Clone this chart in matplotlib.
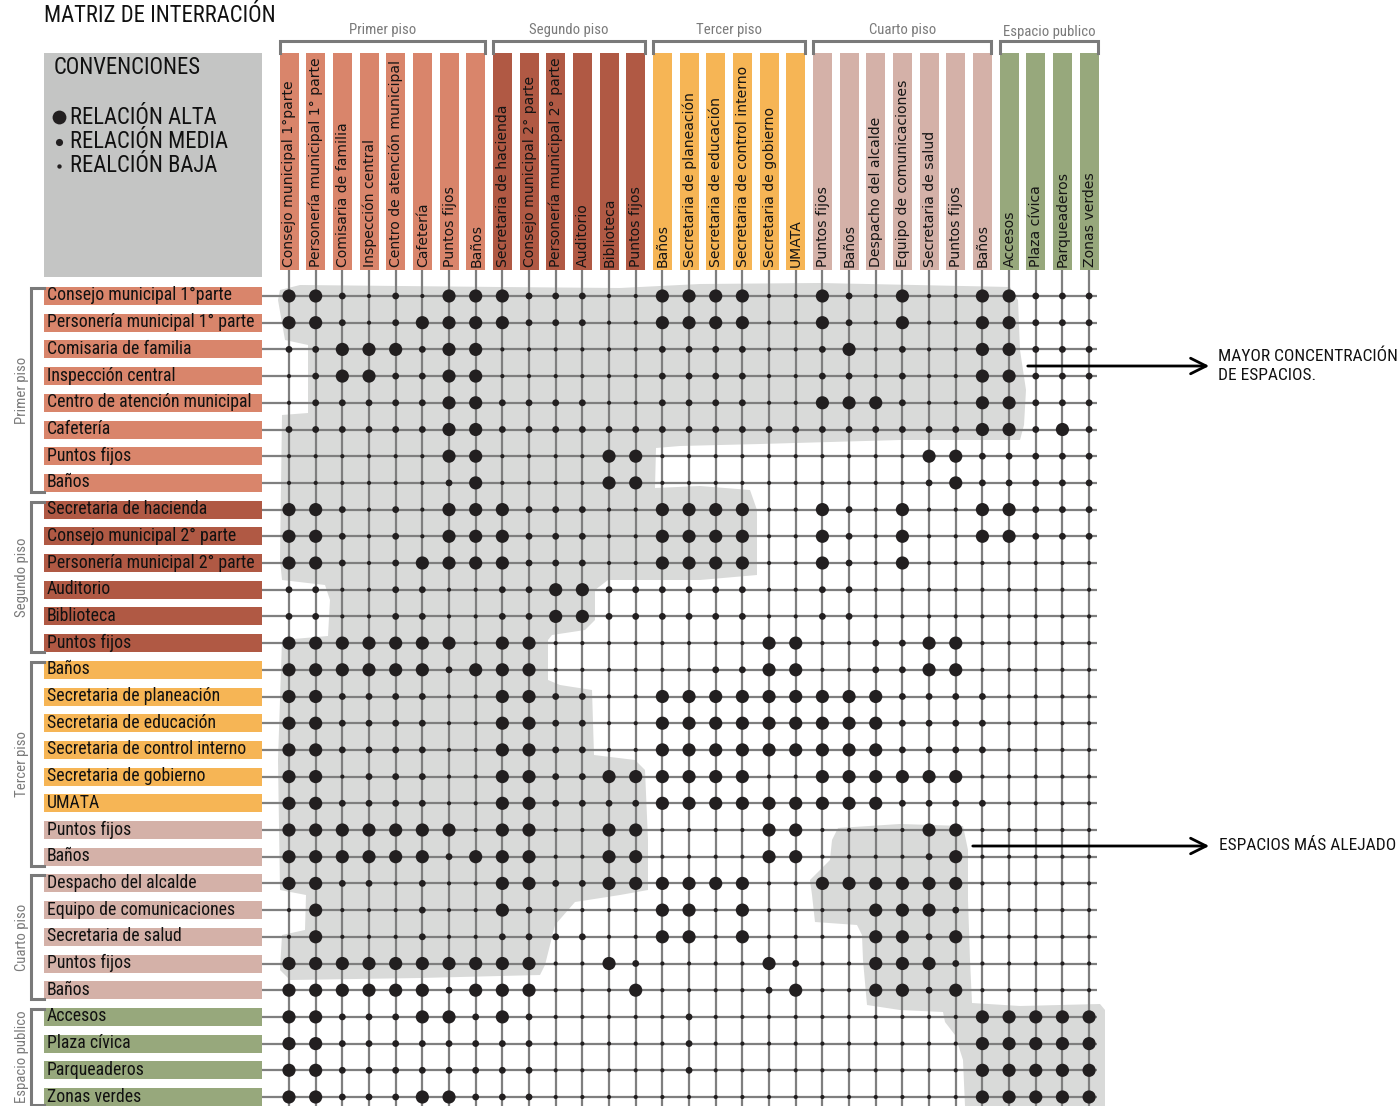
import matplotlib
matplotlib.use('Agg')
import matplotlib.pyplot as plt
from matplotlib.patches import Rectangle, Polygon
from matplotlib import font_manager

# --- data ------------------------------------------------------------------
floors = ['Primer piso', 'Segundo piso', 'Tercer piso', 'Cuarto piso', 'Espacio publico']
floor_colors = ['#d9856b', '#b05944', '#f6b555', '#d4b1a8', '#97a87c']

spaces = [
    'Consejo municipal 1°parte', 'Personería municipal 1° parte', 'Comisaria de familia',
    'Inspección central', 'Centro de atención municipal', 'Cafetería', 'Puntos fijos', 'Baños',
    'Secretaria de hacienda', 'Consejo municipal 2° parte', 'Personería municipal 2° parte',
    'Auditorio', 'Biblioteca', 'Puntos fijos',
    'Baños', 'Secretaria de planeación', 'Secretaria de educación',
    'Secretaria de control interno', 'Secretaria de gobierno', 'UMATA',
    'Puntos fijos', 'Baños', 'Despacho del alcalde', 'Equipo de comunicaciones',
    'Secretaria de salud', 'Puntos fijos', 'Baños',
    'Accesos', 'Plaza cívica', 'Parqueaderos', 'Zonas verdes',
]
# colour group of every space (rows and columns share it)
space_group = [0] * 8 + [1] * 6 + [2] * 6 + [3] * 7 + [4] * 4
# how many columns / rows each bracket groups
col_brackets = [8, 6, 6, 7, 4]
row_brackets = [8, 6, 8, 5, 4]

# relation level per cell: 1 = baja, 2 = media, 3 = alta
relation = [
    '3321213332221133' + '331132131133222',
    '3321233332221133' + '331132131133222',
    '2233323311111122' + '221123121133222',
    '1233223311111122' + '221122121133222',
    '1222223322221122' + '221133321133222',
    '2222223322222222' + '222222222233232',
    '1111113311113311' + '111111113322222',
    '1111112311113311' + '111111112322222',
    '3321213332221133' + '331132131133222',
    '3321213332221133' + '331132131133222',
    '3321233332221133' + '331132131111111',
    '2211221122332222' + '221122111111111',
    '2211221122332222' + '221122111111111',
    '3333333133111111' + '113311223311111',
    '3333332333111111' + '223311223311111',
    '3322221133221133' + '333333322221111',
    '3322221133221133' + '333333322221111',
    '3322221133221133' + '333333322221111',
    '3312221133223333' + '331133333311111',
    '3322221133222233' + '333333322221111',
    '3333333133113311' + '113311113311111',
    '3333332333113311' + '113311112311111',
    '3322121133223333' + '331133333311111',
    '1311121132111133' + '131111333211111',
    '1311121122221133' + '131111332311111',
    '3333333333113211' + '113211333211111',
    '3333332333111311' + '112311332311111',
    '3322233232111112' + '111111111133333',
    '3322222222111112' + '111111111133333',
    '3322222222111112' + '111111111133333',
    '3322233222111111' + '111111111133333',
]
legend_labels = ['RELACIÓN ALTA', 'RELACIÓN MEDIA', 'REALCIÓN BAJA']

# --- fonts -----------------------------------------------------------------
available = {f.name for f in font_manager.fontManager.ttflist}


def pick(*names):
    for n in names:
        if n in available:
            return n
    return 'DejaVu Sans'


COND = pick('Roboto Condensed', 'Liberation Sans Narrow', 'Roboto')
narrow = COND != 'Roboto'
HEAD = 'DejaVu Sans'

# --- layout (pixels) -------------------------------------------------------
X0, DX = 289, 26.67
Y0, DY = 296, 26.7
n = len(spaces)
col_x = [X0 + DX * j for j in range(n)]
row_y = [Y0 + DY * i for i in range(n)]
dot_size = {1: 9, 2: 24, 3: 90}
GRID = '#7f7f7f'
BLOB = '#d9dad9'
DOT = '#221f20'
big = 16.3 if narrow else 14
mid = 12.5 if narrow else 10.8
small = 10.6 if narrow else 9
label = 12.8 if narrow else 10.8

fig = plt.figure(figsize=(13.98, 11.06), dpi=100)
ax = fig.add_axes([0, 0, 1, 1])
ax.set_xlim(0, 1398)
ax.set_ylim(1106, 0)
ax.axis('off')

# shaded concentration areas
blob_a = [(280, 290), (300, 285), (500, 287), (620, 288), (700, 284), (820, 283), (1010, 287),
          (1018, 300), (1020, 350), (1026, 390), (1024, 425), (1020, 440), (900, 440), (760, 444),
          (680, 446), (656, 448), (655, 488), (700, 486), (750, 490), (757, 510), (757, 575),
          (700, 580), (608, 580), (595, 590), (595, 620), (585, 630), (552, 635), (548, 640),
          (548, 680), (560, 685), (592, 690), (594, 755), (635, 760), (645, 770), (648, 840),
          (648, 890), (620, 895), (575, 902), (555, 925), (545, 965), (540, 975), (420, 978),
          (290, 980), (280, 970), (282, 935), (305, 930), (306, 895), (280, 890), (278, 760),
          (282, 640), (328, 636), (330, 600), (325, 585), (282, 580), (280, 560), (282, 415),
          (308, 413), (308, 345), (285, 340), (278, 300)]
blob_b = [(838, 828), (900, 824), (963, 826), (968, 850), (968, 900), (970, 960), (972, 1003),
          (1020, 1006), (1100, 1004), (1105, 1010), (1105, 1106), (965, 1106), (963, 1060),
          (955, 1035), (945, 1022), (943, 1012), (900, 1010), (867, 1005), (863, 960),
          (862, 935), (857, 925), (815, 922), (812, 895), (810, 880), (830, 860), (832, 840)]
for pts in (blob_a, blob_b):
    ax.add_patch(Polygon(pts, closed=True, facecolor=BLOB, edgecolor='none', zorder=1))

# grid lines
for y in row_y:
    ax.plot([262, 1097], [y, y], color=GRID, lw=1.6, zorder=2, solid_capstyle='butt')
for x in col_x:
    ax.plot([x, x], [270, 1106], color=GRID, lw=1.6, zorder=2, solid_capstyle='butt')

# dots
xs, ys, ss = [], [], []
for i, row in enumerate(relation):
    for j, ch in enumerate(row):
        xs.append(col_x[j])
        ys.append(row_y[i])
        ss.append(dot_size[int(ch)])
ax.scatter(xs, ys, s=ss, color=DOT, linewidths=0, zorder=3)

# column header bars
for j, name in enumerate(spaces):
    c = floor_colors[space_group[j]]
    ax.add_patch(Rectangle((col_x[j] - 9.5, 53), 19, 217, facecolor=c, edgecolor='none', zorder=2))
    ax.text(col_x[j] + 0.5, 267, name, rotation=90, ha='center', va='bottom',
            fontsize=10.1, family=HEAD, color='#141414', zorder=4)

# row label bars
for i, name in enumerate(spaces):
    c = floor_colors[space_group[i]]
    ax.add_patch(Rectangle((44, row_y[i] - 9), 218, 18, facecolor=c, edgecolor='none', zorder=2))
    ax.text(47, row_y[i] - 0.5, name, ha='left', va='center',
            fontsize=label, family=COND, color='#111111', zorder=4)

# column brackets
start = 0
for k, cnt in enumerate(col_brackets):
    x1 = col_x[start] - 9
    x2 = col_x[start + cnt - 1] + 9
    ax.plot([x1, x1, x2, x2], [53, 41, 41, 53], color='#7a7a7a', lw=2.2, zorder=2,
            solid_joinstyle='miter')
    ax.text((x1 + x2) / 2, 30 if k < 4 else 32, floors[k], ha='center', va='center',
            fontsize=small, family=COND, color='#7a7a7a')
    start += cnt

# row brackets
start = 0
for k, cnt in enumerate(row_brackets):
    y1 = row_y[start] - 8
    y2 = min(row_y[start + cnt - 1] + 9, 1105)
    ax.plot([44, 31, 31, 44], [y1, y1, y2, y2], color='#7a7a7a', lw=2.2, zorder=2,
            solid_joinstyle='miter')
    ax.text(22, (y1 + y2) / 2, floors[k], rotation=90, ha='center', va='center',
            fontsize=small, family=COND, color='#7a7a7a')
    start += cnt

# title and conventions box
ax.text(44, 16, 'MATRIZ DE INTERRACIÓN', ha='left', va='center',
        fontsize=big, family=COND, color='#111111')
ax.add_patch(Rectangle((44, 53), 218, 224, facecolor='#c4c5c4', edgecolor='none', zorder=1))
ax.text(54, 68, 'CONVENCIONES', ha='left', va='center',
        fontsize=big, family=COND, color='#111111')
for k, (lab, lvl) in enumerate(zip(legend_labels, [3, 2, 1])):
    yy = 117 + 24.5 * k
    ax.scatter([59], [yy], s=[dot_size[lvl] * 1.1], color=DOT, linewidths=0, zorder=3)
    ax.text(70, yy, lab, ha='left', va='center',
            fontsize=big, family=COND, color='#111111')

# annotations
ax.annotate('', xy=(1212, 366), xytext=(1025, 366),
            arrowprops=dict(arrowstyle='->', lw=2, color='black', mutation_scale=28))
ax.text(1218, 356, 'MAYOR CONCENTRACIÓN', ha='left', va='center',
        fontsize=mid, family=COND, color='#111111')
ax.text(1218, 376, 'DE ESPACIOS.', ha='left', va='center',
        fontsize=mid, family=COND, color='#111111')
ax.annotate('', xy=(1212, 846), xytext=(970, 846),
            arrowprops=dict(arrowstyle='->', lw=2, color='black', mutation_scale=28))
ax.text(1219, 846, 'ESPACIOS MÁS ALEJADO', ha='left', va='center',
        fontsize=mid, family=COND, color='#111111')

fig.savefig('out.png', dpi=100)
